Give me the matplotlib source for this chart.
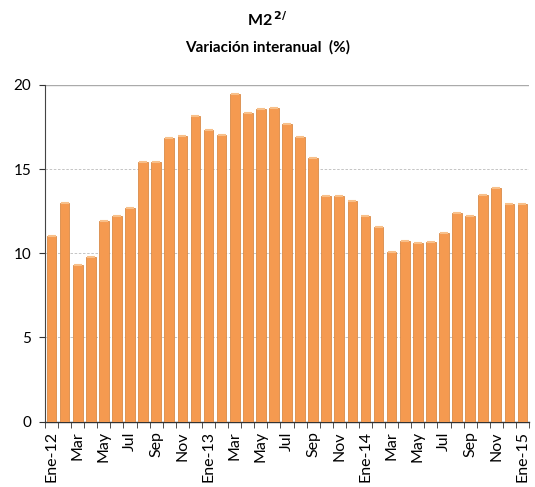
import matplotlib
matplotlib.use("Agg")
import matplotlib.pyplot as plt
import numpy as np

months = ["Ene-12", "Feb", "Mar", "Abr", "May", "Jun", "Jul", "Ago", "Sep", "Oct", "Nov", "Dic",
          "Ene-13", "Feb", "Mar", "Abr", "May", "Jun", "Jul", "Ago", "Sep", "Oct", "Nov", "Dic",
          "Ene-14", "Feb", "Mar", "Abr", "May", "Jun", "Jul", "Ago", "Sep", "Oct", "Nov", "Dic",
          "Ene-15"]
values = [11.0, 13.0, 9.3, 9.8, 11.9, 12.2, 12.7, 15.4, 15.4, 16.85, 16.95, 18.15,
          17.35, 17.05, 19.45, 18.35, 18.6, 18.65, 17.7, 16.9, 15.65, 13.4, 13.4, 13.1,
          12.2, 11.55, 10.05, 10.7, 10.6, 10.65, 11.2, 12.4, 12.2, 13.45, 13.85, 12.95,
          12.95]
yticks = [0, 5, 10, 15, 20]

plt.rcParams['font.family'] = ['Lato', 'DejaVu Sans']

fig = plt.figure(figsize=(5.35, 4.87), dpi=100)
ax = fig.add_axes([45/535, 1-421.5/487, 484/535, (421.5-85)/487])

x = np.arange(len(values))
ax.bar(x, values, width=0.74, color="#F59A50", edgecolor="#D98B48", linewidth=0.6, zorder=3)
# light cap on top of bars for the cylinder look
ax.scatter(x, values, marker="_", s=40, color="#F8C08A", linewidths=1.5, zorder=4)

ax.set_xlim(-0.5, len(values)-0.5)
ax.set_ylim(0, 20)
ax.set_yticks(yticks)
ax.set_yticklabels([str(v) for v in yticks], fontsize=11)
for v in yticks[1:-1]:
    ax.axhline(v, color="#BBBBBB", linestyle=(0, (3, 2)), linewidth=0.6, zorder=1)
ax.axhline(20, color="#AAAAAA", linewidth=1.0, zorder=1)

ax.set_xticks(x[::2])
ax.set_xticklabels(months[::2], rotation=90, fontsize=11.5)
ax.set_xticks(np.arange(len(values)+1) - 0.5, minor=True)
ax.tick_params(axis="x", which="major", length=0, pad=7)
ax.tick_params(axis="x", which="minor", length=4, direction="out", color="#333333")
ax.tick_params(axis="y", length=4, direction="out", color="#333333", pad=6)

for s in ["top", "right"]:
    ax.spines[s].set_visible(False)
ax.spines["left"].set_color("#444444")
ax.spines["bottom"].set_color("#333333")
ax.spines["left"].set_linewidth(0.8)
ax.spines["bottom"].set_linewidth(1.0)

fig.text(0.5, 1-20/487, r"M2$^{\,\mathbf{2/}}$", ha="center", va="center", fontsize=11.5, fontweight="bold")
fig.text(0.5, 1-47/487, "Variación interanual  (%)", ha="center", va="center", fontsize=11, fontweight="bold")

fig.savefig("out.png", dpi=100)
